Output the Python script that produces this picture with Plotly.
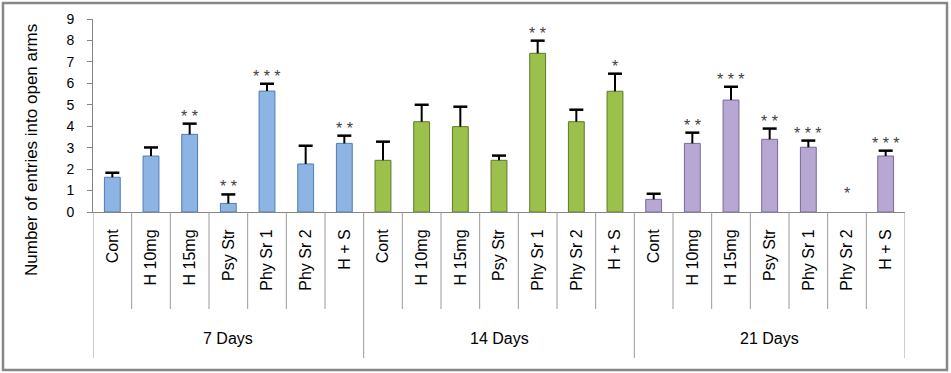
import plotly.graph_objects as go

categories = ["Cont", "H 10mg", "H 15mg", "Psy Str", "Phy Sr 1", "Phy Sr 2", "H + S"]
groups = ["7 Days", "14 Days", "21 Days"]

means_7 = [1.62, 2.61, 3.62, 0.40, 5.64, 2.24, 3.20]
err_7 = [0.21, 0.40, 0.50, 0.42, 0.34, 0.85, 0.36]
sig_7 = ["", "", "* *", "* *", "* * *", "", "* *"]

means_14 = [2.41, 4.21, 3.98, 2.41, 7.40, 4.21, 5.63]
err_14 = [0.87, 0.79, 0.93, 0.22, 0.59, 0.56, 0.82]
sig_14 = ["", "", "", "", "* *", "", "*"]

means_21 = [0.59, 3.20, 5.22, 3.39, 3.02, 0.0, 2.61]
err_21 = [0.26, 0.50, 0.62, 0.50, 0.31, 0.0, 0.25]
sig_21 = ["", "* *", "* * *", "* *", "* * *", "*", "* * *"]

y_ticks = [0, 1, 2, 3, 4, 5, 6, 7, 8, 9]
y_title = "Number of entries into open arms"

series = [
    (means_7, err_7, sig_7, "#8DB4E2", "#4F7DB5"),
    (means_14, err_14, sig_14, "#9BC04C", "#5C7A26"),
    (means_21, err_21, sig_21, "#B6A8D2", "#7A6898"),
]

FONT = "Liberation Sans, Arial, sans-serif"
W, H = 951, 373
L, R, T, B = 93, 46, 19, 161
PW, PH = W - L - R, H - T - B

def px_to_paper_x(px):
    return (px - L) / PW

def px_to_paper_y(py):
    return (H - B - py) / PH

fig = go.Figure()
n = len(categories)
annotations = []
for g, (means, errs, sigs, fill, edge) in enumerate(series):
    xs = [g * n + i for i in range(n)]
    fig.add_trace(go.Bar(
        x=xs, y=means, width=0.41,
        marker=dict(color=fill,
                    line=dict(color=edge, width=[1 if m > 0 else 0 for m in means])),
        showlegend=False, hoverinfo="skip",
    ))
    sx, sy, cx, cy = [], [], [], []
    for x, m, e in zip(xs, means, errs):
        if e > 0:
            sx += [x, x, None]
            sy += [m, m + e, None]
            cx.append(x)
            cy.append(m + e)
    fig.add_trace(go.Scatter(x=sx, y=sy, mode="lines",
                             line=dict(color="black", width=2),
                             showlegend=False, hoverinfo="skip"))
    fig.add_trace(go.Scatter(x=cx, y=cy, mode="markers",
                             marker=dict(symbol="line-ew", size=10,
                                         line=dict(color="black", width=2.5)),
                             showlegend=False, hoverinfo="skip"))
    for x, m, e, s in zip(xs, means, errs, sigs):
        if s:
            top = m + e if m > 0 else 0.53
            annotations.append(dict(
                x=x, y=top, xref="x", yref="y", text=s, showarrow=False,
                yanchor="bottom", xanchor="center", yshift=-3,
                font=dict(family=FONT, size=16, color="#404040"),
            ))
    annotations.append(dict(
        x=g * n + (n - 1) / 2, y=px_to_paper_y(338), xref="x", yref="paper",
        text=groups[g], showarrow=False, yanchor="middle", xanchor="center",
        font=dict(family=FONT, size=16, color="black"),
    ))

annotations.append(dict(
    x=px_to_paper_x(31), y=px_to_paper_y(150), xref="paper", yref="paper",
    text=y_title, textangle=-90, showarrow=False,
    xanchor="center", yanchor="middle",
    font=dict(family=FONT, size=17, color="black"),
))

line_col = "#9A9A9A"
shapes = []
total = n * len(groups)
for k in range(total + 1):
    xb = k - 0.5
    is_group = (k % n == 0)
    y_end = px_to_paper_y(358) if is_group else px_to_paper_y(309)
    shapes.append(dict(type="line", xref="x", yref="paper",
                       x0=xb, x1=xb, y0=0, y1=y_end,
                       line=dict(color=line_col, width=1)))
shapes.append(dict(type="rect", xref="paper", yref="paper",
                   x0=px_to_paper_x(3), x1=px_to_paper_x(947),
                   y0=px_to_paper_y(370), y1=px_to_paper_y(3),
                   line=dict(color="#878787", width=2.5)))

all_labels = categories * len(groups)
fig.update_layout(
    width=W, height=H,
    margin=dict(l=L, r=R, t=T, b=B),
    paper_bgcolor="white", plot_bgcolor="white",
    barmode="overlay",
    annotations=annotations,
    shapes=shapes,
    xaxis=dict(
        range=[-0.5, total - 0.5],
        tickmode="array", tickvals=list(range(total)), ticktext=all_labels,
        tickangle=-90, ticks="", showline=True, linecolor="#868686",
        linewidth=1, showgrid=False, zeroline=False,
        tickfont=dict(family=FONT, size=16, color="black"),
        ticklabelstandoff=10,
    ),
    yaxis=dict(
        range=[0, 9], tickmode="array", tickvals=y_ticks,
        ticks="outside", ticklen=5, tickcolor="#868686",
        showline=True, linecolor="#868686", linewidth=1,
        showgrid=False, zeroline=False,
        tickfont=dict(family=FONT, size=14, color="black"),
        ticklabelstandoff=10,
    ),
)

fig.write_html("out.html", config={"displayModeBar": False},
               post_script="document.body.style.margin='0';")
